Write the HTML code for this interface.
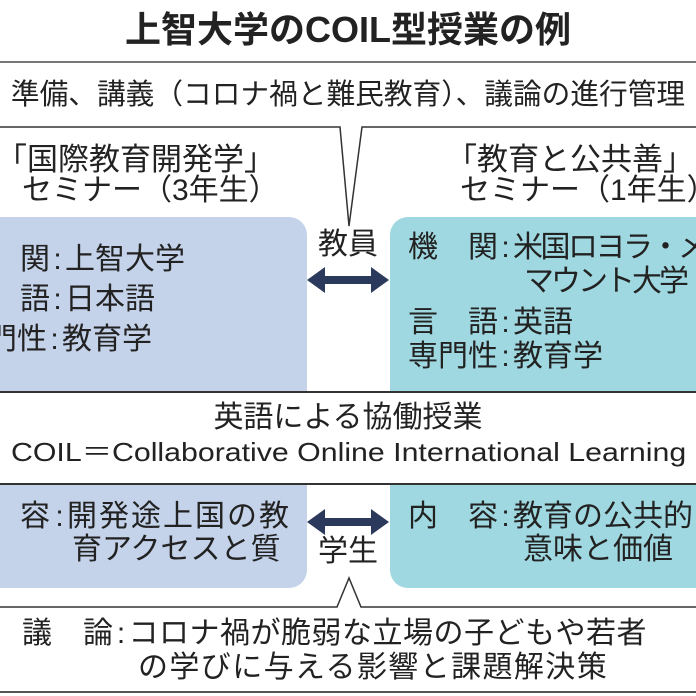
<!DOCTYPE html>
<html><head><meta charset="utf-8"><style>
body{margin:0;width:696px;height:696px;overflow:hidden;background:#fff;position:relative;font-family:"Liberation Sans","Noto Sans CJK JP",sans-serif;color:#222}
#w{position:absolute;left:0;top:0;width:696px;height:696px;overflow:hidden}
.t{position:absolute;white-space:nowrap;line-height:1;font-size:30px}
.c{display:inline-block;width:15px;text-align:center;letter-spacing:0}
.box{position:absolute}
</style></head><body><div id="w">
<div class="box" style="left:-20px;top:217px;width:327px;height:176px;background:#c4d3ea;border-radius:0 18px 0 0"></div>
<div class="box" style="left:390px;top:217px;width:306px;height:176px;background:#9fd8e0;border-radius:18px 0 0 0"></div>
<div class="box" style="left:-20px;top:484px;width:327px;height:104px;background:#c4d3ea;border-radius:0 0 18px 0"></div>
<div class="box" style="left:390px;top:484px;width:306px;height:104px;background:#9fd8e0;border-radius:0 0 0 18px"></div>
<svg width="696" height="696" style="position:absolute;left:0;top:0">
<line x1="0" y1="62" x2="696" y2="62" stroke="#777" stroke-width="2"/>
<polyline points="0,127 340,127 349,226 362,127 696,127" fill="none" stroke="#333" stroke-width="1.5"/>
<line x1="0" y1="392" x2="696" y2="392" stroke="#333" stroke-width="2"/>
<line x1="0" y1="484" x2="696" y2="484" stroke="#333" stroke-width="2"/>
<polyline points="0,607 337,607 349,578 361,607 696,607" fill="#fff" stroke="#333" stroke-width="1.5"/>
<rect x="0" y="608" width="696" height="84" fill="#fff"/>
<line x1="0" y1="692" x2="696" y2="692" stroke="#555" stroke-width="2"/>
<g fill="#2b3a5c">
<polygon points="307,280 325,267 325,276 371,276 371,267 389,280 371,293 371,284 325,284 325,293"/>
<polygon points="307,522 325,509 325,518 371,518 371,509 389,522 371,535 371,526 325,526 325,535"/>
</g>
</svg>
<div class="t" style="left:0;width:696px;text-align:center;top:12px;font-size:36px;font-weight:bold">上智大学のCOIL型授業の例</div>
<div class="t" style="left:0;width:696px;text-align:center;top:81px;font-size:28.7px">準備、講義（コロナ禍と難民教育）、議論の進行管理</div>
<div class="t" style="left:-4px;top:144px;font-size:31px">「国際教育開発学」</div>
<div class="t" style="left:22px;top:176px;font-size:30px">セミナー（3年生）</div>
<div class="t" style="left:446px;top:144px;font-size:31px">「教育と公共善」</div>
<div class="t" style="left:460px;top:176px;font-size:30px">セミナー（1年生）</div>
<div class="t" style="left:318px;top:230px">教員</div>
<div class="t" style="left:318px;top:537px">学生</div>
<div class="t" style="left:20px;top:245px">関<span class="c">:</span>上智大学</div>
<div class="t" style="left:20px;top:285px">語<span class="c">:</span>日本語</div>
<div class="t" style="left:-13px;top:325px">門性<span class="c">:</span>教育学</div>
<div class="t" style="left:408px;top:233px">機　関<span class="c">:</span><span style="letter-spacing:-2.5px">米国ロヨラ・メ</span></div>
<div class="t" style="left:524px;top:267px;letter-spacing:-3px">マウント大学</div>
<div class="t" style="left:408px;top:308px">言　語<span class="c">:</span>英語</div>
<div class="t" style="left:408px;top:342px">専門性<span class="c">:</span>教育学</div>
<div class="t" style="left:0;width:696px;text-align:center;top:403px">英語による協働授業</div>
<div class="t" style="left:11px;top:439px;font-size:26px;transform:scaleX(1.165);transform-origin:0 0">COIL＝Collaborative Online International Learning</div>
<div class="t" style="left:20px;top:502px;letter-spacing:2px">容<span class="c">:</span>開発途上国の教</div>
<div class="t" style="left:72px;top:535px">育アクセスと質</div>
<div class="t" style="left:408px;top:502px">内　容<span class="c">:</span>教育の公共的</div>
<div class="t" style="left:523px;top:535px">意味と価値</div>
<div class="t" style="left:22px;top:619px;letter-spacing:0.5px">議　論<span class="c">:</span>コロナ禍が脆弱な立場の子どもや若者</div>
<div class="t" style="left:138px;top:653px;letter-spacing:1.4px">の学びに与える影響と課題解決策</div>
</div></body></html>
